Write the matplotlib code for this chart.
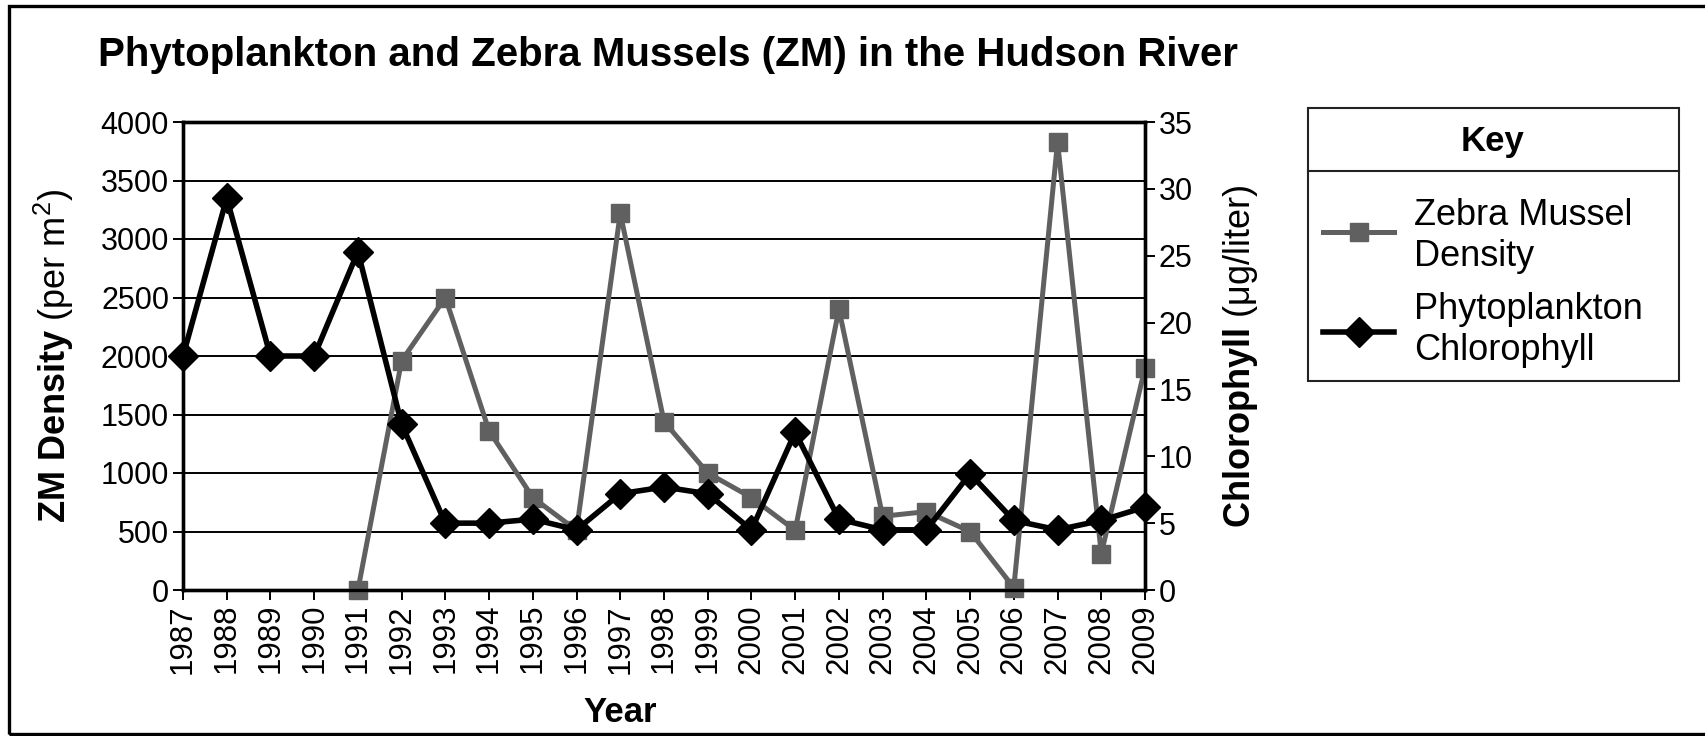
import matplotlib
matplotlib.use("Agg")
import matplotlib.pyplot as plt
from matplotlib.lines import Line2D
from matplotlib.patches import Rectangle

plt.rcParams['font.family'] = ['Liberation Sans', 'DejaVu Sans']
plt.rcParams['mathtext.fontset'] = 'custom'
plt.rcParams['mathtext.rm'] = 'Liberation Sans'
plt.rcParams['mathtext.bf'] = 'Liberation Sans:bold'
plt.rcParams['mathtext.it'] = 'Liberation Sans:italic'

# ---- data ----
years = list(range(1987, 2010))
zm_years = list(range(1991, 2010))
zm_density = [0, 1960, 2500, 1360, 790, 510, 3220, 1440, 1000, 790,
              510, 2400, 630, 670, 500, 20, 3830, 310, 1900]
chlorophyll = [17.5, 29.3, 17.5, 17.5, 25.3, 12.4, 5.0, 5.0, 5.3, 4.5,
               7.2, 7.7, 7.2, 4.5, 11.8, 5.3, 4.5, 4.5, 8.7, 5.2,
               4.5, 5.2, 6.2]
left_ticks = list(range(0, 4001, 500))
right_ticks = list(range(0, 36, 5))

title = "Phytoplankton and Zebra Mussels (ZM) in the Hudson River"
gray = '#606060'

W, H = 1705, 736
fig = plt.figure(figsize=(W / 100, H / 100), dpi=100)

def fx(px):
    return px / W

def fy(py):
    return 1 - py / H

ax = fig.add_axes([fx(183), fy(590), fx(1145) - fx(183), fy(122) - fy(590)])
ax2 = ax.twinx()

ax.set_xlim(1987, 2009)
ax.set_ylim(0, 4000)
ax2.set_ylim(0, 35)
ax.set_xticks(years)
ax.set_xticklabels([str(y) for y in years], rotation=90, fontsize=22.5)
ax.set_yticks(left_ticks)
ax.set_yticklabels([str(t) for t in left_ticks], fontsize=22)
ax2.set_yticks(right_ticks)
ax2.set_yticklabels([str(t) for t in right_ticks], fontsize=22)

ax.yaxis.grid(True, color='black', lw=1.4)
ax.set_axisbelow(True)

for a in (ax, ax2):
    for s in a.spines.values():
        s.set_linewidth(2.4)
        s.set_color('black')
    a.tick_params(direction='out', length=7, width=1.4, pad=3, colors='black')

ax.plot(zm_years, zm_density, color=gray, lw=3.6, marker='s', ms=13.5,
        mfc=gray, mec=gray, clip_on=False, zorder=3)
ax2.plot(years, chlorophyll, color='black', lw=4.0, marker='D', ms=15,
         mfc='black', mec='black', clip_on=False, zorder=4)

# titles / labels
fig.text(fx(98), fy(66), title, fontsize=29, fontweight='bold', ha='left', va='baseline')
fig.text(fx(54), fy(356), r'$\mathbf{ZM\ Density}$ (per m$^2$)', fontsize=26,
         rotation=90, ha='center', va='center')
fig.text(fx(1240), fy(356), r'$\mathbf{Chlorophyll}$ (μg/liter)', fontsize=26,
         rotation=90, ha='center', va='center')
fig.text(fx(620), fy(722), 'Year', fontsize=25, fontweight='bold', ha='center', va='baseline')

# key box
fig.add_artist(Rectangle((fx(1308), fy(381)), fx(1679) - fx(1308), fy(108) - fy(381),
                         transform=fig.transFigure, fill=False, lw=1.5, ec='#222222'))
fig.add_artist(Line2D([fx(1308), fx(1679)], [fy(171), fy(171)], transform=fig.transFigure,
                      color='#222222', lw=1.5))
fig.text(fx(1493), fy(151), 'Key', fontsize=25, fontweight='bold', ha='center', va='baseline')
fig.add_artist(Line2D([fx(1323), fx(1394)], [fy(232), fy(232)], transform=fig.transFigure,
                      color=gray, lw=3.6))
fig.add_artist(Line2D([fx(1358.5)], [fy(232)], transform=fig.transFigure, color=gray,
                      marker='s', ms=13.5, mfc=gray, mec=gray))
fig.add_artist(Line2D([fx(1323), fx(1394)], [fy(332), fy(332)], transform=fig.transFigure,
                      color='black', lw=4.0))
fig.add_artist(Line2D([fx(1358.5)], [fy(332)], transform=fig.transFigure, color='black',
                      marker='D', ms=15, mfc='black', mec='black'))
fig.text(fx(1414), fy(236), 'Zebra Mussel\nDensity', fontsize=26, ha='left', va='center',
         linespacing=1.22)
fig.text(fx(1414), fy(330), 'Phytoplankton\nChlorophyll', fontsize=26, ha='left', va='center',
         linespacing=1.22)

# outer border
fig.add_artist(Rectangle((fx(9), fy(734)), 1.2, fy(6) - fy(734), transform=fig.transFigure,
                         fill=False, lw=2.4, ec='black'))

fig.savefig('out.png', dpi=100)
